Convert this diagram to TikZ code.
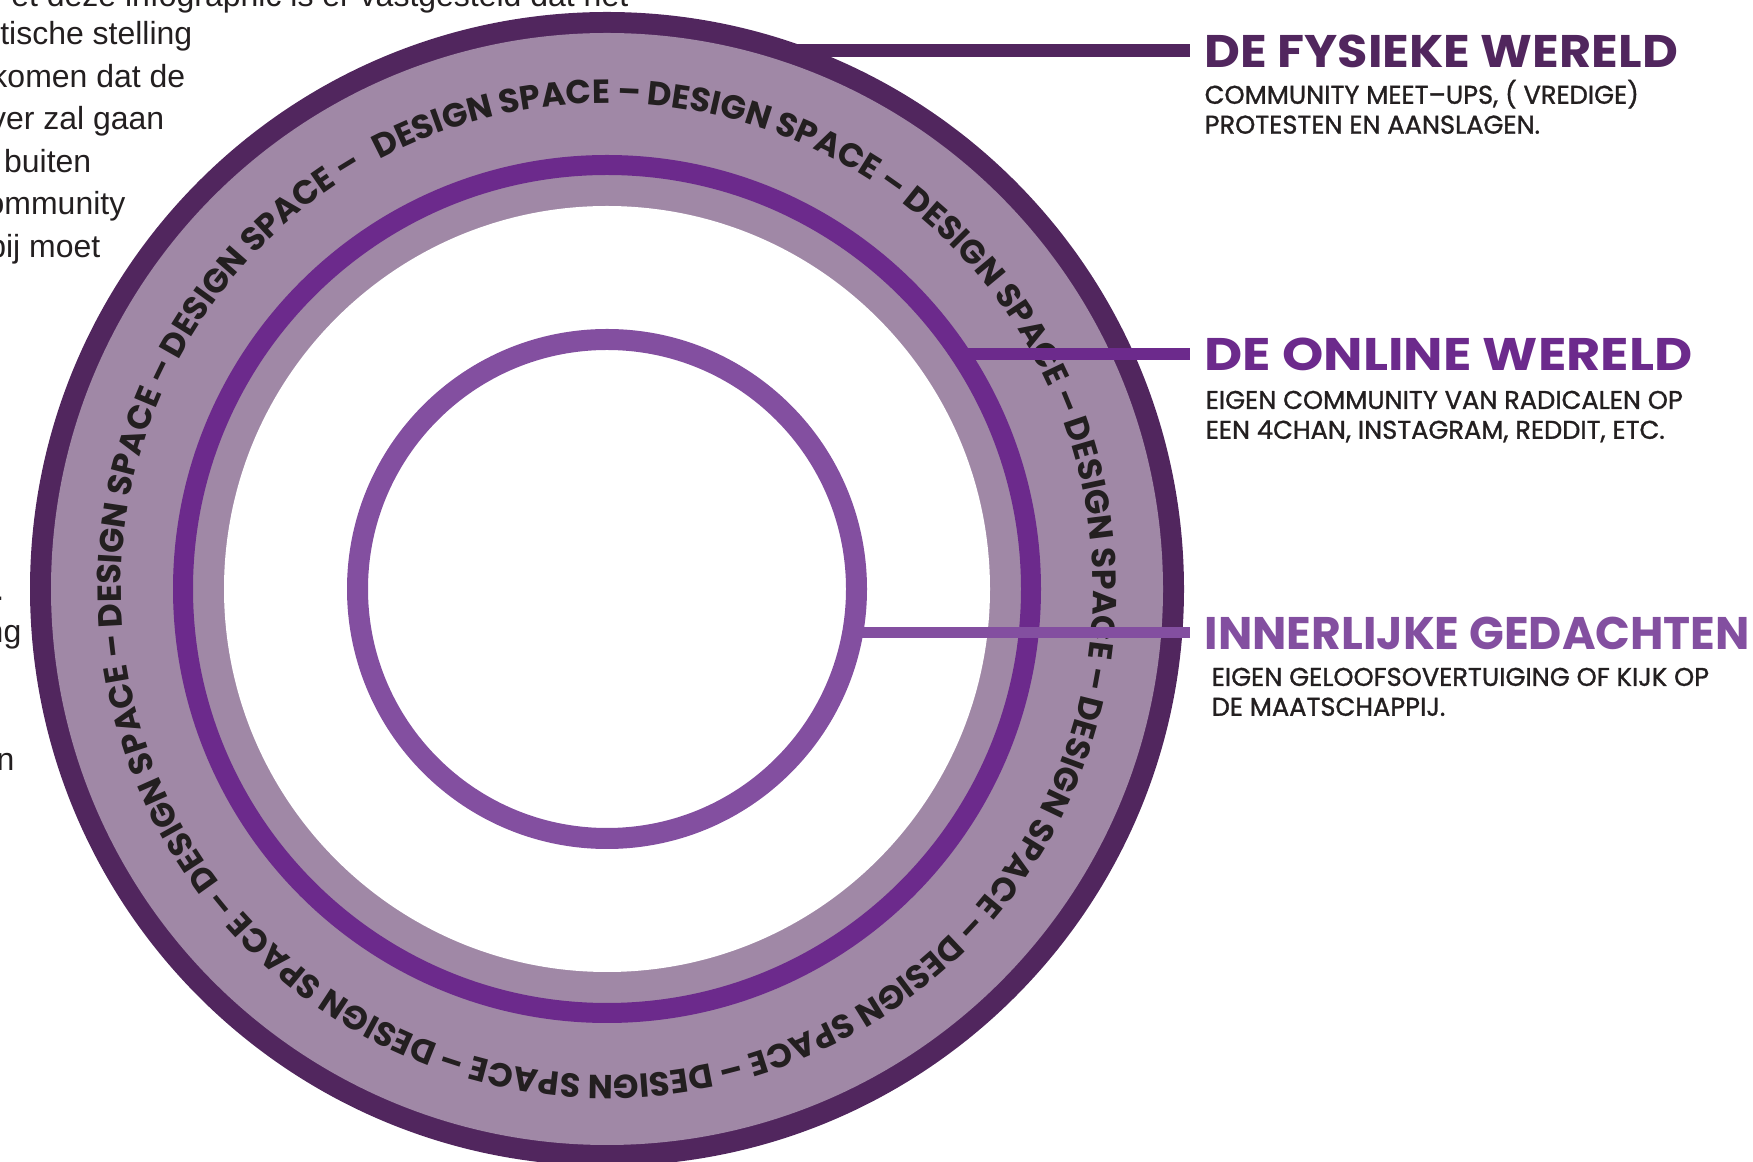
\documentclass[tikz,border=0pt]{standalone}
\usepackage{fontspec}
\setmainfont{Poppins}
\newfontfamily\bodyfont{Liberation Sans}
\newfontfamily\subfont{Poppins}[FakeBold=1.2]
\usetikzlibrary{decorations.text,positioning}
\definecolor{ringdark}{HTML}{51265E}
\definecolor{ringlight}{HTML}{A088A6}
\definecolor{ringmid}{HTML}{6C2A8C}
\definecolor{ringinner}{HTML}{834FA0}
\definecolor{inktext}{HTML}{231F20}

\begin{document}
\begin{tikzpicture}[x=0.1mm,y=0.1mm,
  heading/.style={anchor=west,inner xsep=1.4mm,inner ysep=0pt,font=\bfseries\fontsize{13}{15}\selectfont},
  subtext/.style={align=left,inner sep=0pt,text=inktext,font=\subfont\fontsize{7.3}{8.5}\selectfont},
  bodyline/.style={anchor=base east,inner sep=0pt,text=inktext,font=\bodyfont\fontsize{9.1}{12}\selectfont},
  leader/.style={line width=1.25mm}]
\clip (0,0) rectangle (1753,1162);
\coordinate (c) at (607,573);
% Text column (cut off at the left)
  \foreach \xr/\yb/\txt [count=\n] in {629/1155/{et deze infographic is er vastgesteld dat het},
    193/1117/{tische stelling}, 186/1074.5/{komen dat de}, 165/1032/{ver zal gaan},
    92/989.5/{buiten}, 126/947/{ommunity}, 101/904.5/{bij moet},
    5/561.5/{.}, 22/519/{ng}, 15/391.5/{n}}
    \node[bodyline] (body\n) at (\xr,\yb) {\txt};
% Rings
  \fill[ringdark] (c) circle (577);
  \fill[ringlight] (c) circle (556);
  \fill[white] (c) circle (383);
  \draw[ringmid,line width=2mm] (c) circle (424);
  \draw[ringinner,line width=2.1mm] (c) circle (249.5);
% Design space band
  \foreach \i in {0,...,10}{
    \pgfmathsetmacro\a{117.9-32.6*\i}
    \pgfmathsetmacro\b{\a-38}
    \path[shift={(c)},decorate,decoration={text along path,text color=inktext,
      text={|\bfseries\fontsize{9.5}{10}\selectfont|DESIGN SPACE –}}]
      (\a:486) arc[start angle=\a,end angle=\b,radius=486];
  }
% Labels
  \coordinate (fysiekStart) at (787,1111);
  \coordinate (onlineStart) at (967,808);
  \coordinate (innerStart) at (858,529);
  \node[heading,text=ringdark] (fysiek) at (1190,1111) {\scalebox{1.08}[1]{DE FYSIEKE WERELD}};
  \node[heading,text=ringmid] (online) at (1190,808) {\scalebox{1.15}[1]{DE ONLINE WERELD}};
  \node[heading,text=ringinner] (innerlijk) at (1190,529) {INNERLIJKE GEDACHTEN};
  \draw[leader,ringdark,line width=1.3mm] (fysiekStart) -- (fysiek.west);
  \draw[leader,ringmid,line width=1.2mm] (onlineStart) -- (online.west);
  \draw[leader,ringinner,line width=1.1mm] (innerStart) -- (innerlijk.west);
  \node[subtext,below right=1.1mm and 1.4mm of fysiek.south west] (fysiekNote)
    {COMMUNITY MEET–UPS, ( VREDIGE)\\PROTESTEN EN AANSLAGEN.};
  \node[subtext,below right=1.9mm and 1.5mm of online.south west] (onlineNote)
    {EIGEN COMMUNITY VAN RADICALEN OP\\EEN 4CHAN, INSTAGRAM, REDDIT, ETC.};
  \node[subtext,below right=1.7mm and 2.1mm of innerlijk.south west] (innerlijkNote)
    {EIGEN GELOOFSOVERTUIGING OF KIJK OP\\DE MAATSCHAPPIJ.};
\end{tikzpicture}
\end{document}
